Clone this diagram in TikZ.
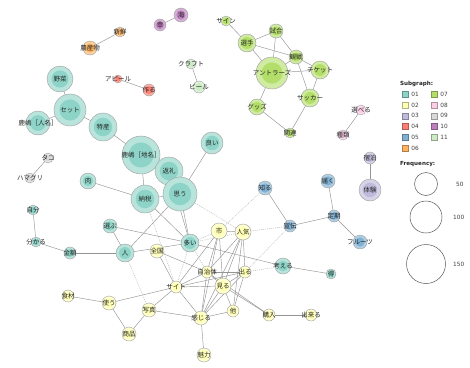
\documentclass[tikz,border=0pt]{standalone}
\usepackage{fontspec}
\setmainfont{Noto Sans CJK JP}
\newfontfamily\legfont{DejaVu Sans}
\definecolor{c01}{HTML}{8DD3C7}
\definecolor{c02}{HTML}{FFFFB3}
\definecolor{c03}{HTML}{BEBADA}
\definecolor{c04}{HTML}{FB8072}
\definecolor{c05}{HTML}{80B1D3}
\definecolor{c06}{HTML}{FDB462}
\definecolor{c07}{HTML}{B3DE69}
\definecolor{c08}{HTML}{FCCDE5}
\definecolor{c09}{HTML}{D9D9D9}
\definecolor{c10}{HTML}{BC80BD}
\definecolor{c11}{HTML}{CCEBC5}
\pgfdeclarelayer{edges}
\pgfdeclarelayer{labels}
\pgfsetlayers{edges,main,labels}
\tikzset{
  wnode/.style={circle, inner sep=0pt, draw=black!38, line width=0.4pt},
  wlabel/.style={font=\fontsize{6.5}{7}\selectfont, text=black!85, inner sep=0pt},
  tie/.style={draw=black!42, line width=0.45pt},
  xtie/.style={draw=black!28, line width=0.45pt, dash pattern=on 1pt off 1pt},
  swatch/.style={minimum size=6pt, inner sep=0pt, line width=0.4pt},
  legtext/.style={font=\legfont\fontsize{5.8}{7}\selectfont, text=black!75, inner sep=0pt, anchor=west},
  legtitle/.style={font=\legfont\bfseries\fontsize{5.6}{7}\selectfont, text=black!85, inner sep=0pt, anchor=west},
  freqcirc/.style={circle, draw=black!65, line width=0.5pt, inner sep=0pt, fill=white}
}
\newcommand\wn[6]{%
  \node[wnode, minimum size={2*#4pt}, fill=#5!62!white] (#1) at (#2,#3) {};
  \fill[#5] (#1.center) circle[radius={0.66*#4pt}];
  \begin{pgfonlayer}{labels}\node[wlabel] at (#1.center) {#6};\end{pgfonlayer}
}
\begin{document}
\begin{tikzpicture}[x=1pt,y=-1pt]
\begin{pgfonlayer}{edges}
\fill[white] (0,0) rectangle (470,367);
\end{pgfonlayer}
\useasboundingbox (0,0) rectangle (470,367);
% group 01
\wn{yasai}{60}{79}{13}{c01}{野菜}
\wn{set}{70}{110}{16}{c01}{セット}
\wn{kjin}{38}{123}{12}{c01}{鹿嶋［人名］}
\wn{tokusan}{103}{127}{14}{c01}{特産}
\wn{kchi}{141}{155}{19}{c01}{鹿嶋［地名］}
\wn{henrei}{169}{171}{14}{c01}{返礼}
\wn{omou}{180}{194}{17}{c01}{思う}
\wn{yoi}{212}{143}{11}{c01}{良い}
\wn{nouzei}{145}{199}{14}{c01}{納税}
\wn{niku}{88}{181}{8}{c01}{肉}
\wn{erabu}{110}{226}{7}{c01}{選ぶ}
\wn{ooi}{190}{243}{9}{c01}{多い}
\wn{hito}{125}{253}{9}{c01}{人}
\wn{kingaku}{70}{253}{6}{c01}{金額}
\wn{wakaru}{36}{242}{5}{c01}{分かる}
\wn{jibun}{33}{210}{5}{c01}{自分}
\wn{kangaeru}{283}{266}{8}{c01}{考える}
\wn{toku}{331}{274}{5}{c01}{得}
% group 02
\wn{ichi}{219}{231}{8}{c02}{市}
\wn{ninki}{243}{232}{8}{c02}{人気}
\wn{zenkoku}{157}{251}{7}{c02}{全国}
\wn{jichitai}{207}{272}{6}{c02}{自治体}
\wn{deru}{245}{272}{6}{c02}{出る}
\wn{miru}{223}{286}{8}{c02}{見る}
\wn{saito}{176}{287}{6}{c02}{サイト}
\wn{tsukau}{109}{303}{7}{c02}{使う}
\wn{shokuzai}{68}{296}{6}{c02}{食材}
\wn{shashin}{149}{310}{7}{c02}{写真}
\wn{kanjiru}{201}{318}{7}{c02}{感じる}
\wn{hoka}{233}{311}{6}{c02}{他}
\wn{kounyu}{269}{315}{6}{c02}{購入}
\wn{dekiru}{311}{315}{6}{c02}{出来る}
\wn{shouhin}{129}{334}{7}{c02}{商品}
\wn{miryoku}{204}{355}{7}{c02}{魅力}
% group 03
\wn{shukuhaku}{370}{158}{6}{c03}{宿泊}
\wn{taiken}{370}{190}{11}{c03}{体験}
% group 04
\wn{appeal}{118}{79}{4}{c04}{アピール}
\wn{tsukuru}{149}{90}{6}{c04}{作る}
% group 05
\wn{shiru}{265}{188}{7}{c05}{知る}
\wn{todoku}{328}{181}{7}{c05}{届く}
\wn{senden}{290}{226}{6}{c05}{宣伝}
\wn{teiki}{334}{216}{6}{c05}{定期}
\wn{fruit}{360}{242}{7}{c05}{フルーツ}
% group 06
\wn{nousan}{90}{48}{7}{c06}{農産物}
\wn{shinsen}{120}{32}{5}{c06}{新鮮}
% group 07
\wn{sign}{226}{21}{5}{c07}{サイン}
\wn{shiai}{276}{31}{7}{c07}{試合}
\wn{senshu}{247}{43}{9}{c07}{選手}
\wn{kansen}{296}{57}{7}{c07}{観戦}
\wn{ticket}{320}{70}{9}{c07}{チケット}
\wn{antlers}{272}{73}{16}{c07}{アントラーズ}
\wn{soccer}{310}{98}{9}{c07}{サッカー}
\wn{goods}{257}{107}{8}{c07}{グッズ}
\wn{kanren}{290}{133}{5}{c07}{関連}
% group 08
\wn{eraberu}{361}{110}{5}{c08}{選べる}
\wn{shurui}{343}{135}{5}{c08}{種類}
% group 09
\wn{tako}{48}{158}{5}{c09}{タコ}
\wn{hamaguri}{30}{178}{5}{c09}{ハマグリ}
% group 10
\wn{umi}{181}{15}{7}{c10}{海}
\wn{sachi}{160}{25}{6}{c10}{幸}
% group 11
\wn{craft}{191}{64}{5}{c11}{クラフト}
\wn{beer}{199}{87}{6}{c11}{ビール}
% edges
\begin{pgfonlayer}{edges}
\foreach \a/\b in {yasai/set, set/kjin, set/tokusan, tokusan/kchi, kchi/henrei, kchi/nouzei,
  henrei/omou, omou/yoi, nouzei/omou, niku/nouzei, nouzei/ooi, omou/ooi, henrei/ooi, omou/hito,
  erabu/ooi, erabu/hito, hito/ooi, hito/kingaku, kingaku/wakaru, wakaru/jibun, ooi/kangaeru, kangaeru/toku,
  ichi/ninki, ichi/jichitai, ichi/miru, ichi/saito, ichi/kanjiru, ninki/jichitai, ninki/miru, ninki/deru,
  ninki/kanjiru, ninki/hoka, zenkoku/saito, zenkoku/jichitai, jichitai/deru, jichitai/miru, jichitai/saito,
  jichitai/kanjiru, jichitai/kounyu, deru/miru, deru/saito, deru/kanjiru, deru/hoka, miru/saito,
  miru/kanjiru, miru/hoka, miru/kounyu, kounyu/dekiru, saito/tsukau, saito/shashin, saito/kanjiru,
  shashin/kanjiru, shashin/shouhin, tsukau/shouhin, tsukau/shokuzai, kanjiru/miryoku, kanjiru/hoka,
  shukuhaku/taiken, appeal/tsukuru, shiru/senden, senden/teiki, teiki/todoku, teiki/fruit,
  nousan/shinsen, sign/senshu, senshu/shiai, senshu/kansen, senshu/antlers, shiai/kansen, shiai/antlers,
  kansen/antlers, kansen/ticket, kansen/soccer, antlers/ticket, antlers/goods, ticket/soccer,
  soccer/kanren, goods/kanren, eraberu/shurui, tako/hamaguri, umi/sachi, craft/beer}
  \draw[tie] (\a.center) -- (\b.center);
\foreach \a/\b in {omou/ninki, shiru/ichi, senden/ninki, senden/deru, ooi/ichi, ooi/ninki,
  deru/kangaeru, nouzei/saito, hito/shashin, ooi/saito, ooi/jichitai}
  \draw[xtie] (\a.center) -- (\b.center);
\end{pgfonlayer}
% legend
\node[legtitle] (subt) at (400,84) {Subgraph:};
\foreach \n/\c/\x/\y in {l01/c01/405/94, l02/c02/405/105, l03/c03/405/115.7, l04/c04/405/126.3,
  l05/c05/405/137, l06/c06/405/148, l07/c07/434/94, l08/c08/434/105, l09/c09/434/115.7,
  l10/c10/434/126.3, l11/c11/434/137}
  \node[swatch, fill=\c, draw=\c!70!black] (\n) at (\x,\y) {};
\foreach \n/\t in {l01/01, l02/02, l03/03, l04/04, l05/05, l06/06, l07/07, l08/08, l09/09, l10/10, l11/11}
  \node[legtext] at ([xshift=3pt]\n.east) {\t};
\node[legtitle] (freqt) at (400,164) {Frequency:};
\node[freqcirc, minimum size=23pt] (f50) at (426,184) {};
\node[freqcirc, minimum size=32pt] (f100) at (426,217) {};
\node[freqcirc, minimum size=39pt] (f150) at (426,264) {};
\node[legtext] at (456,184) {50};
\node[legtext] at (453,217) {100};
\node[legtext] at (453,264) {150};
\end{tikzpicture}
\end{document}
